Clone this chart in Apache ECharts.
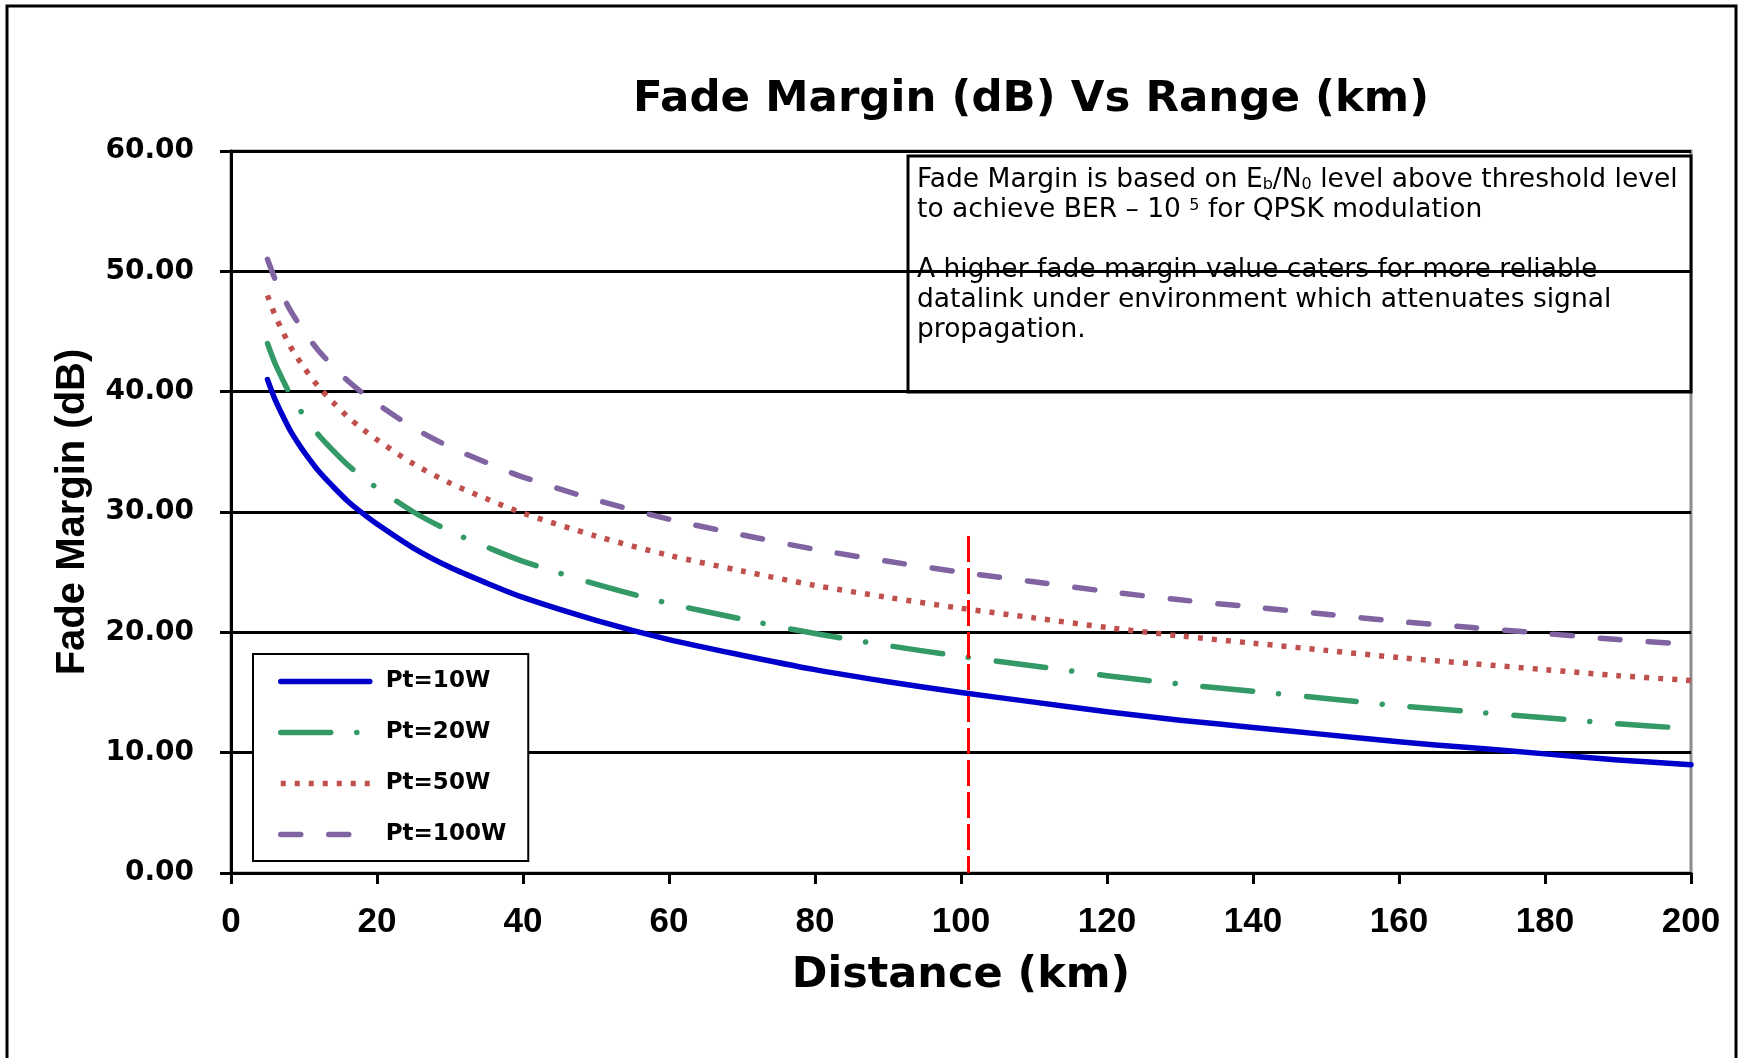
<!DOCTYPE html>
<html>
<head>
<meta charset="utf-8">
<title>Fade Margin (dB) Vs Range (km)</title>
<script src="https://cdn.jsdelivr.net/npm/echarts@6/dist/echarts.min.js"></script>
<style>
  html, body { margin: 0; padding: 0; background: #ffffff; }
  #chart { width: 1743px; height: 1058px; }
</style>
</head>
<body>
<div id="chart"></div>
<script>
// Link distance (km) at which the fade margin was evaluated
const distanceKm = [5, 6, 7, 8, 9, 10, 12, 14, 16, 18, 20, 25, 30, 35, 40, 50, 60, 70, 80, 90,
  100, 110, 120, 130, 140, 150, 160, 170, 180, 190, 200];

// Fade margin (dB) for each transmit power
const fm10W = [41.0, 39.4, 38.1, 36.9, 35.9, 35.0, 33.4, 32.1, 30.9, 29.9, 29.0, 27.0, 25.4, 24.1, 22.9,
  21.0, 19.4, 18.1, 16.9, 15.9, 15.0, 14.2, 13.4, 12.7, 12.1, 11.5, 10.9, 10.4, 9.9, 9.4, 9.0];
const fm20W = [44.0, 42.4, 41.1, 39.9, 38.9, 38.0, 36.4, 35.1, 33.9, 32.9, 32.0, 30.0, 28.4, 27.1, 25.9,
  24.0, 22.4, 21.1, 19.9, 18.9, 18.0, 17.2, 16.4, 15.7, 15.1, 14.5, 13.9, 13.4, 12.9, 12.4, 12.0];
const fm50W = [48.0, 46.4, 45.1, 43.9, 42.9, 42.0, 40.4, 39.1, 37.9, 36.9, 36.0, 34.0, 32.4, 31.1, 29.9,
  28.0, 26.4, 25.1, 23.9, 22.9, 22.0, 21.2, 20.4, 19.7, 19.1, 18.5, 17.9, 17.4, 16.9, 16.4, 16.0];
const fm100W = [51.0, 49.4, 48.1, 46.9, 45.9, 45.0, 43.4, 42.1, 40.9, 39.9, 39.0, 37.0, 35.4, 34.1, 32.9,
  31.0, 29.4, 28.1, 26.9, 25.9, 25.0, 24.2, 23.4, 22.7, 22.1, 21.5, 20.9, 20.4, 19.9, 19.4, 19.0];

const seriesNames = ['Pt=10W', 'Pt=20W', 'Pt=50W', 'Pt=100W'];

// Reference range marker (km) and the height it is drawn up to (dB)
const markerRangeKm = 101;
const markerTopDb = 28;

const yTicks = { min: 0, max: 60, step: 10 };
const xTicks = { min: 0, max: 200, step: 20 };

const BOLD = 'DejaVu Sans';
const pairs = (ys) => distanceKm.map((d, i) => [d, ys[i]]);

const chart = echarts.init(document.getElementById('chart'), null, { renderer: 'canvas' });

const styles = [
  { color: '#0000CC', type: 'solid', cap: 'round' },
  { color: '#339966', type: [50, 26, 0.1, 28], cap: 'round' },
  { color: '#C0504D', type: [5, 9], cap: 'butt' },
  { color: '#8064A2', type: [20, 28], cap: 'round' }
];
const values = [fm10W, fm20W, fm50W, fm100W];

const series = seriesNames.map((name, i) => ({
  name: name,
  type: 'line',
  data: pairs(values[i]),
  smooth: 0.3,
  showSymbol: false,
  symbol: 'none',
  z: 3 + i,
  lineStyle: { color: styles[i].color, width: 5.5, type: styles[i].type, cap: styles[i].cap, join: 'round' },
  itemStyle: { color: styles[i].color }
}));

series[0].markLine = {
  silent: true,
  symbol: ['none', 'none'],
  label: { show: false },
  lineStyle: { color: '#FF0000', width: 3, type: [26, 6] },
  data: [[{ coord: [markerRangeKm, markerTopDb] }, { coord: [markerRangeKm, 0] }]]
};

const option = {
  backgroundColor: '#ffffff',
  animation: false,
  title: {
    text: 'Fade Margin (dB) Vs Range (km)',
    left: 1026,
    top: 73,
    textAlign: 'center',
    textStyle: { fontFamily: BOLD, fontWeight: 'bold', fontSize: 43.5, color: '#000' }
  },
  grid: {
    left: 231, right: 52, top: 151, bottom: 185,
    show: true, borderColor: '#8c8c8c', borderWidth: 3, backgroundColor: '#ffffff'
  },
  legend: {
    orient: 'vertical',
    left: 253,
    top: 654,
    padding: [16, 22, 15, 25],
    itemGap: 28,
    itemWidth: 89,
    itemHeight: 14,
    backgroundColor: '#ffffff',
    borderColor: '#000000',
    borderWidth: 2,
    borderRadius: 0,
    data: seriesNames,
    itemStyle: { opacity: 0 },
    lineStyle: { width: 5.5, inactiveWidth: 5.5 },
    textStyle: { fontFamily: BOLD, fontWeight: 'bold', fontSize: 23, color: '#000', padding: [0, 0, 0, 11] }
  },
  xAxis: {
    type: 'value',
    min: xTicks.min, max: xTicks.max, interval: xTicks.step,
    name: 'Distance (km)',
    nameLocation: 'middle',
    nameGap: 81,
    nameTextStyle: { fontFamily: BOLD, fontWeight: 'bold', fontSize: 43, color: '#000' },
    axisLine: { show: true, onZero: false, lineStyle: { color: '#000', width: 3 } },
    axisTick: { show: true, inside: false, length: 11, lineStyle: { color: '#000', width: 3 } },
    axisLabel: { margin: 32, fontFamily: 'Liberation Sans', fontWeight: 'bold', fontSize: 35, color: '#000' },
    splitLine: { show: false }
  },
  yAxis: {
    type: 'value',
    min: yTicks.min, max: yTicks.max, interval: yTicks.step,
    name: 'Fade Margin (dB)',
    nameLocation: 'middle',
    nameGap: 138,
    nameRotate: 90,
    nameTextStyle: { fontFamily: 'Liberation Sans', fontWeight: 'bold', fontSize: 40, color: '#000' },
    axisLine: { show: true, onZero: false, lineStyle: { color: '#000', width: 3 } },
    axisTick: { show: true, inside: false, length: 11, lineStyle: { color: '#000', width: 3 } },
    axisLabel: {
      margin: 37, fontFamily: BOLD, fontWeight: 'bold', fontSize: 28, color: '#000',
      formatter: (v) => v.toFixed(2)
    },
    splitLine: { show: true, lineStyle: { color: '#000', width: 3 } }
  },
  graphic: [
    {
      type: 'rect',
      z: 0,
      silent: true,
      shape: { x: 7, y: 6, width: 1729, height: 1100 },
      style: { fill: 'none', stroke: '#000', lineWidth: 3 }
    },
    {
      type: 'group',
      z: 100,
      children: [
        {
          type: 'rect',
          shape: { x: 908, y: 156, width: 783, height: 236 },
          style: { fill: '#ffffff', stroke: '#000', lineWidth: 3 }
        },
        {
          type: 'text',
          x: 917,
          y: 165,
          style: {
            text: [
              'Fade Margin is based on E{sub|b}/N{sub|0} level above threshold level',
              'to achieve BER – 10 {sup|5} for QPSK modulation',
              '',
              'A higher fade margin value caters for more reliable',
              'datalink under environment which attenuates signal',
              'propagation.'
            ].join('\n'),
            fontFamily: 'DejaVu Sans',
            fontSize: 26.5,
            lineHeight: 30,
            fill: '#000',
            rich: {
              sub: { fontFamily: 'DejaVu Sans', fontSize: 16, lineHeight: 30, verticalAlign: 'bottom', padding: [0, 0, 2, 0] },
              sup: { fontFamily: 'DejaVu Sans', fontSize: 16, lineHeight: 30, verticalAlign: 'top', padding: [3, 0, 0, 0] }
            }
          }
        }
      ]
    }
  ],
  series: series
};

chart.setOption(option);
</script>
</body>
</html>
